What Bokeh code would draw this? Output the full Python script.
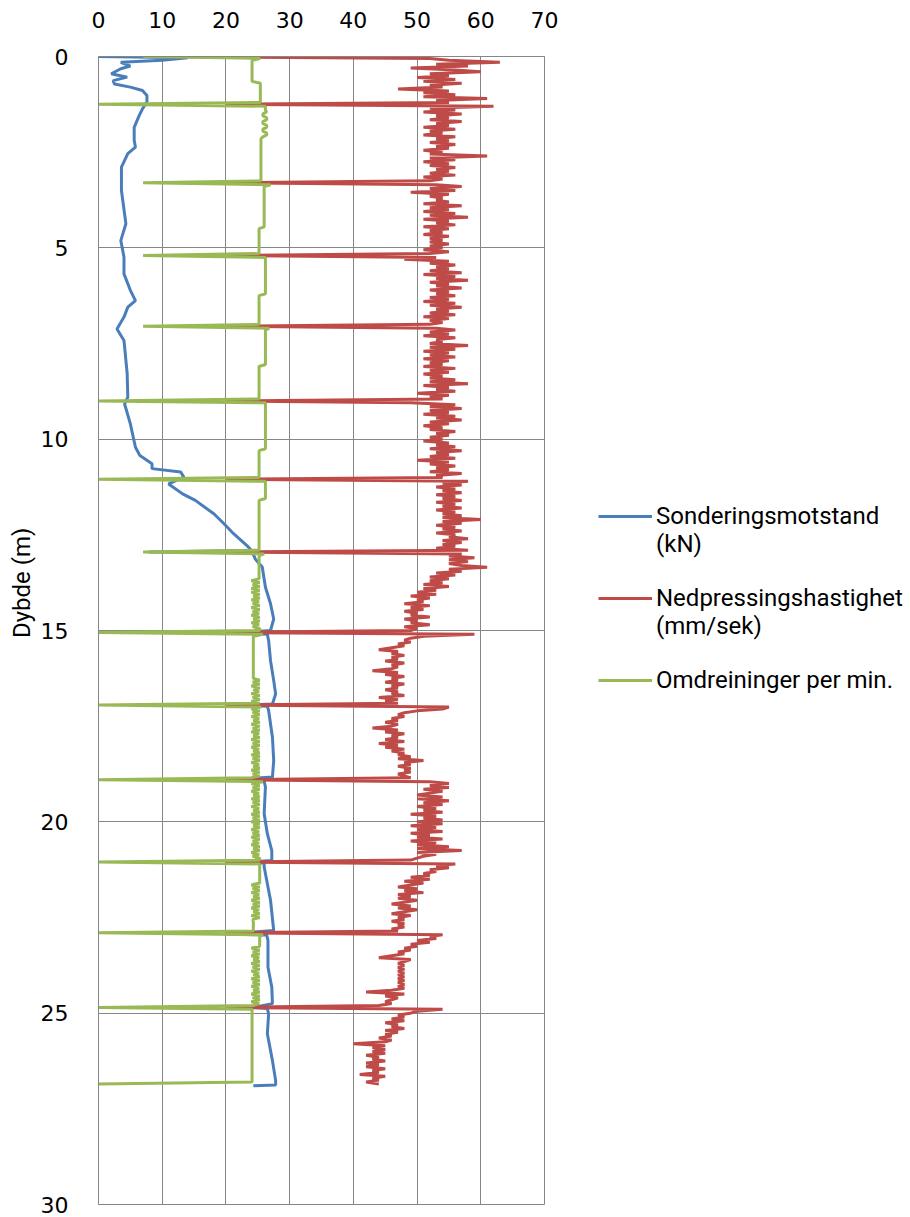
import numpy as np
from bokeh.plotting import figure
from bokeh.models import Range1d, FixedTicker, Legend, LegendItem
from bokeh.embed import file_html
from bokeh.resources import INLINE

# ---------------- data ----------------
x_ticks = [0, 10, 20, 30, 40, 50, 60, 70]
y_ticks = [0, 5, 10, 15, 20, 25, 30]

series_names = ["Sonderingsmotstand", "(kN)", "Nedpressingshastighet", "(mm/sek)",
                "Omdreininger per min."]
y_title = "Dybde (m)"

# Sonderingsmotstand (kN) -- depth (m) / value
blue_depth = [0.0, 0.03, 0.10, 0.15, 0.25, 0.32, 0.45, 0.54, 0.63, 0.72, 0.80, 0.89, 1.02, 1.19,
              1.37, 1.54, 1.85, 2.19, 2.37, 2.54, 2.89, 3.50, 4.37, 4.81, 5.24, 5.68, 6.11, 6.38,
              6.55, 6.81, 7.12, 7.42, 8.29, 8.90, 9.08, 9.60, 10.21, 10.43, 10.64, 10.77, 10.86,
              10.99, 11.17, 11.43, 11.60, 11.95, 12.21, 12.47, 12.78, 12.91, 12.95, 12.97, 13.13,
              13.34, 13.87, 14.30, 14.70, 15.00, 15.06, 15.10, 15.26, 15.79, 16.31, 16.66, 16.92,
              16.95, 16.98, 17.09, 17.79, 18.40, 18.83, 18.90, 18.93, 19.09, 19.79, 20.31, 20.75,
              21.01, 21.05, 21.08, 21.18, 22.05, 22.84, 22.93, 22.96, 23.10, 23.80, 24.32, 24.75,
              24.85, 24.88, 25.02, 25.54, 26.24, 26.76, 26.88, 26.90]
blue_value = [0, 14, 10, 3.5, 5.0, 3.5, 2.0, 4.5, 2.3, 2.5, 5.0, 6.9, 7.6, 7.6,
              6.9, 6.4, 5.6, 5.6, 5.8, 4.6, 3.6, 3.6, 4.3, 3.5, 4.0, 4.0, 5.0, 5.8,
              4.6, 4.0, 2.9, 4.0, 4.5, 4.6, 4.1, 5.0, 5.8, 6.5, 8.4, 8.4, 12.9,
              13.4, 11.0, 13.2, 15.2, 18.1, 19.7, 21.2, 23.3, 24.0, 7.9, 24.2, 24.6,
              25.7, 26.2, 27.0, 27.5, 27.0, 22.6, 26.5, 26.7, 27.0, 27.5, 27.8, 27.3,
              22.3, 26.5, 26.7, 27.3, 27.5, 27.3, 21.2, 26.0, 26.2, 26.0, 26.5, 27.2,
              27.2, 24.0, 26.0, 26.0, 27.0, 27.5, 20.2, 26.4, 26.6, 26.6, 27.2, 27.3,
              24.3, 26.5, 26.7, 26.5, 27.3, 27.8, 27.8, 24.3]

# Nedpressingshastighet (mm/sek) and Omdreininger per min., sampled every 0.05 m (one row = 1 m)
depth_step = 0.05
red_value = [
    7, 52, 55, 63, 53, 58, 49, 56, 60, 52, 55, 50, 56, 51, 57, 52, 54, 47, 55, 51,
    56, 51, 61, 53, 55, 20, 62, 52, 56, 51, 57, 53, 55, 52, 57, 53, 55, 51, 56, 52,
    54, 51, 56, 53, 55, 52, 56, 53, 55, 51, 54, 52, 61, 52, 56, 51, 55, 52, 56, 53,
    55, 52, 56, 51, 54, 52, 20, 53, 57, 52, 56, 49, 55, 52, 54, 53, 55, 51, 57, 52,
    55, 51, 56, 52, 58, 51, 55, 53, 56, 51, 55, 52, 54, 51, 55, 52, 54, 52, 55, 52,
    54, 51, 55, 52, 20, 53, 48, 55, 52, 56, 53, 55, 52, 57, 51, 56, 53, 58, 52, 55,
    53, 57, 52, 55, 53, 56, 52, 55, 51, 56, 52, 57, 53, 55, 52, 56, 51, 55, 52, 54,
    52, 20, 53, 56, 52, 55, 51, 56, 53, 54, 52, 58, 52, 56, 51, 55, 52, 56, 51, 55,
    52, 54, 51, 56, 52, 55, 51, 54, 52, 56, 52, 58, 51, 55, 53, 56, 50, 55, 52, 54,
    20, 49, 56, 52, 57, 52, 55, 51, 56, 53, 57, 52, 55, 51, 54, 52, 56, 53, 55, 52,
    54, 51, 55, 53, 56, 52, 57, 53, 55, 52, 56, 50, 55, 52, 56, 53, 55, 52, 57, 53,
    54, 20, 58, 54, 57, 53, 56, 54, 57, 53, 56, 54, 57, 53, 56, 54, 57, 53, 56, 54,
    57, 54, 60, 54, 57, 53, 56, 54, 57, 53, 56, 55, 58, 54, 57, 54, 56, 53, 58, 20,
    57, 55, 59, 55, 58, 55, 57, 61, 55, 57, 53, 56, 52, 55, 52, 54, 51, 55, 51, 53,
    50, 53, 49, 52, 50, 51, 48, 52, 49, 51, 48, 50, 49, 52, 48, 50, 49, 52, 48, 50,
    49, 20, 59, 51, 49, 48, 49, 47, 48, 46, 44, 47, 46, 48, 46, 47, 45, 48, 46, 47,
    46, 43, 47, 45, 48, 46, 47, 45, 48, 46, 47, 45, 47, 46, 48, 44, 47, 45, 47, 20,
    55, 54, 50, 48, 47, 48, 46, 47, 45, 47, 46, 43, 47, 45, 48, 46, 47, 45, 48, 44,
    47, 45, 48, 46, 48, 47, 49, 47, 51, 48, 49, 47, 49, 48, 49, 47, 48, 49, 20, 52,
    55, 52, 55, 51, 54, 52, 50, 54, 50, 55, 51, 54, 50, 53, 51, 54, 49, 53, 51, 54,
    50, 54, 49, 53, 50, 54, 49, 52, 50, 54, 49, 53, 50, 55, 50, 57, 50, 53, 51, 50,
    49, 20, 56, 53, 55, 52, 53, 51, 52, 49, 52, 48, 51, 49, 47, 50, 48, 51, 47, 49,
    47, 50, 48, 46, 49, 47, 50, 48, 46, 49, 47, 48, 46, 48, 47, 48, 46, 47, 20, 54,
    52, 53, 50, 52, 49, 50, 48, 49, 47, 48, 46, 44, 49, 48, 47, 48, 47, 48, 47, 48,
    47, 48, 47, 48, 47, 48, 47, 48, 46, 42, 48, 45, 47, 46, 45, 46, 44, 20, 54, 50,
    49, 47, 48, 46, 48, 45, 47, 46, 48, 45, 47, 45, 46, 44, 46, 45, 40, 45, 43, 45,
    43, 45, 42, 44, 43, 45, 42, 44, 42, 45, 43, 44, 41, 45, 43, 44, 42, 44, 24,
]
green_value = [
    7, 25.4, 24.1, 24.1, 24.1, 24.1, 24.1, 24.1, 24.1, 24.1, 24.1, 24.1, 24.1, 24.1, 25.4, 25.4, 25.4, 25.4, 25.4, 25.4,
    25.4, 25.4, 25.4, 25.4, 25.4, 0, 26.2, 26.2, 26.2, 26.4, 25.8, 25.8, 26.4, 26.4, 25.8, 25.8, 26.4, 26.4, 25.8, 25.8,
    26.4, 26.4, 25.8, 25.5, 25.5, 25.5, 25.5, 25.5, 25.5, 25.5, 25.5, 25.5, 25.5, 25.5, 25.5, 25.5, 25.5, 25.5, 25.5, 25.5,
    25.5, 25.5, 25.5, 25.5, 25.5, 25.5, 7, 27, 26.0, 26.0, 26.0, 26.0, 26.0, 26.0, 26.0, 26.0, 26.0, 26.0, 26.0, 26.0,
    26.0, 26.0, 26.0, 26.0, 26.0, 26.0, 26.0, 26.0, 26.0, 26.0, 25.2, 25.2, 25.2, 25.2, 25.2, 25.2, 25.2, 25.2, 25.2, 25.2,
    25.2, 25.2, 25.2, 25.2, 7, 26.2, 26.2, 26.2, 26.2, 26.2, 26.2, 26.2, 26.2, 26.2, 26.2, 26.2, 26.2, 26.2, 26.2, 26.2,
    26.2, 26.2, 26.2, 26.2, 26.2, 25.2, 25.2, 25.2, 25.2, 25.2, 25.2, 25.2, 25.2, 25.2, 25.2, 25.2, 25.2, 25.2, 25.2, 25.2,
    25.2, 7, 26.8, 26.2, 26.2, 26.2, 26.2, 26.2, 26.2, 26.2, 26.2, 26.2, 26.2, 26.2, 26.2, 26.2, 26.2, 26.2, 26.2, 26.2,
    26.2, 26.2, 25.2, 25.2, 25.2, 25.2, 25.2, 25.2, 25.2, 25.2, 25.2, 25.2, 25.2, 25.2, 25.2, 25.2, 25.2, 25.2, 25.2, 25.2,
    0, 26.2, 26.2, 26.2, 26.2, 26.2, 26.2, 26.2, 26.2, 26.2, 26.2, 26.2, 26.2, 26.2, 26.2, 26.2, 26.2, 26.2, 26.2, 26.2,
    26.2, 26.2, 26.2, 26.2, 26.2, 26.2, 25.2, 25.2, 25.2, 25.2, 25.2, 25.2, 25.2, 25.2, 25.2, 25.2, 25.2, 25.2, 25.2, 25.2,
    25.2, 0, 26.2, 26.2, 26.2, 26.2, 26.2, 26.2, 26.2, 26.2, 26.2, 26.2, 25.2, 25.2, 25.2, 25.2, 25.2, 25.2, 25.2, 25.2,
    25.2, 25.2, 25.2, 25.2, 25.2, 25.2, 25.2, 25.2, 25.2, 25.2, 25.2, 25.2, 25.2, 25.2, 25.2, 25.2, 25.2, 25.2, 25.2, 7,
    26.0, 25.2, 25.2, 25.2, 25.2, 25.2, 25.2, 25.2, 25.2, 25.2, 25.2, 25.2, 25.2, 25.2, 24.0, 25.3, 24.2, 25.3, 24.0, 25.3,
    24.0, 25.3, 24.3, 25.3, 24.0, 25.2, 24.2, 25.3, 24.0, 25.3, 24.2, 25.2, 24.0, 25.3, 24.3, 25.3, 24.0, 25.2, 24.2, 25.3,
    25.3, 0, 25.8, 24.3, 24.3, 24.3, 24.3, 24.3, 24.3, 24.3, 24.3, 24.3, 24.3, 24.3, 24.3, 24.3, 24.3, 24.3, 24.3, 24.3,
    24.3, 24.3, 24.3, 24.3, 24.3, 24.3, 25.3, 24.2, 25.3, 24.0, 25.3, 24.3, 25.2, 24.0, 25.3, 24.2, 25.3, 24.0, 25.3, 0,
    25.5, 24.0, 25.3, 24.2, 25.3, 24.0, 25.2, 24.3, 25.3, 24.0, 25.3, 24.2, 25.3, 24.0, 25.2, 24.3, 25.3, 24.0, 25.3, 24.2,
    25.3, 24.0, 25.2, 24.3, 25.3, 24.0, 25.3, 24.2, 25.3, 24.0, 25.2, 24.3, 25.3, 24.0, 25.3, 24.2, 25.3, 24.0, 0, 25.8,
    24.0, 25.3, 24.2, 25.3, 24.0, 25.2, 24.3, 25.3, 24.0, 25.3, 24.2, 25.3, 24.0, 25.2, 24.3, 25.3, 24.0, 25.3, 24.2, 25.3,
    24.0, 25.3, 24.3, 25.3, 24.0, 25.2, 24.2, 25.3, 24.0, 25.3, 24.2, 25.2, 24.0, 25.3, 24.3, 25.3, 24.0, 25.2, 24.2, 25.3,
    25.3, 0, 25.3, 25.3, 25.3, 25.3, 25.3, 25.3, 25.3, 25.3, 25.3, 25.3, 25.3, 24.0, 25.3, 24.2, 25.3, 24.0, 25.2, 24.3,
    25.3, 24.0, 25.3, 24.2, 25.3, 24.0, 25.2, 24.3, 25.3, 24.0, 25.3, 24.2, 24.3, 24.3, 24.3, 24.3, 24.3, 24.3, 0, 25.8,
    25.3, 25.3, 25.3, 25.3, 25.3, 25.3, 24.0, 25.3, 24.2, 25.3, 24.0, 25.2, 24.3, 25.3, 24.0, 25.3, 24.2, 25.3, 24.0, 25.2,
    24.3, 25.3, 24.0, 25.3, 24.2, 25.3, 24.0, 25.2, 24.3, 25.3, 24.0, 25.3, 24.2, 25.3, 24.0, 25.2, 24.3, 0, 24.1, 24.1,
    24.1, 24.1, 24.1, 24.1, 24.1, 24.1, 24.1, 24.1, 24.1, 24.1, 24.1, 24.1, 24.1, 24.1, 24.1, 24.1, 24.1, 24.1, 24.1, 24.1,
    24.1, 24.1, 24.1, 24.1, 24.1, 24.1, 24.1, 24.1, 24.1, 24.1, 24.1, 24.1, 24.1, 24.1, 24.1, 24.1, 24.1, 0,
]

colors = {"blue": "#4A7EBB", "red": "#BE4B48", "green": "#98B954"}

n = min(len(red_value), len(green_value))
grid_depth = [round(i * depth_step, 2) for i in range(n)]

# ---------------- figure ----------------
p = figure(frame_width=446, frame_height=1148, x_range=Range1d(0, 70), y_range=Range1d(30, 0),
           x_axis_location="above", output_backend="svg", toolbar_location=None,
           min_border_left=98, min_border_top=56, min_border_right=0, min_border_bottom=12)

grid_col = "#868686"
p.outline_line_color = grid_col
p.xgrid.grid_line_color = grid_col
p.ygrid.grid_line_color = grid_col
p.xaxis.ticker = FixedTicker(ticks=x_ticks)
p.yaxis.ticker = FixedTicker(ticks=y_ticks)
for ax in (p.xaxis, p.yaxis):
    ax.axis_line_color = grid_col
    ax.major_tick_line_color = None
    ax.minor_tick_line_color = None
    ax.major_label_text_font = "DejaVu Sans"
    ax.major_label_text_font_size = "22px"
    ax.major_label_text_color = "#000000"
p.xaxis.major_label_standoff = 23
p.yaxis.major_label_standoff = 24

# y-axis title, shifted upwards along the axis with leading no-break spaces
p.yaxis.axis_label = "\u00a0" * 16 + y_title
p.yaxis.axis_label_text_font = "Roboto"
p.yaxis.axis_label_text_font_size = "24px"
p.yaxis.axis_label_text_font_style = "normal"
p.yaxis.axis_label_text_color = "#000000"
p.yaxis.axis_label_standoff = 2

r_blue = p.line(blue_value, blue_depth, line_color=colors["blue"], line_width=3)
r_red = p.line(red_value[:n], grid_depth, line_color=colors["red"], line_width=3)
r_green = p.line(green_value[:n], grid_depth, line_color=colors["green"], line_width=3)
r_blank = p.line([], [], line_alpha=0)

legend = Legend(items=[
    LegendItem(label=series_names[0], renderers=[r_blue]),
    LegendItem(label=series_names[1], renderers=[r_blank]),
    LegendItem(label=" ", renderers=[r_blank]),
    LegendItem(label=series_names[2], renderers=[r_red]),
    LegendItem(label=series_names[3], renderers=[r_blank]),
    LegendItem(label=" ", renderers=[r_blank]),
    LegendItem(label=series_names[4], renderers=[r_green]),
], location=(54, 510))
legend.spacing = 0
legend.padding = 0
legend.margin = 0
legend.label_height = 26
legend.glyph_height = 26
legend.glyph_width = 54
legend.label_standoff = 4
legend.border_line_alpha = 0
legend.background_fill_alpha = 0
legend.label_text_font = "Roboto"
legend.label_text_font_size = "24px"
legend.label_text_color = "#000000"
p.add_layout(legend, "right")

open("out.html", "w").write(file_html(p, INLINE))
